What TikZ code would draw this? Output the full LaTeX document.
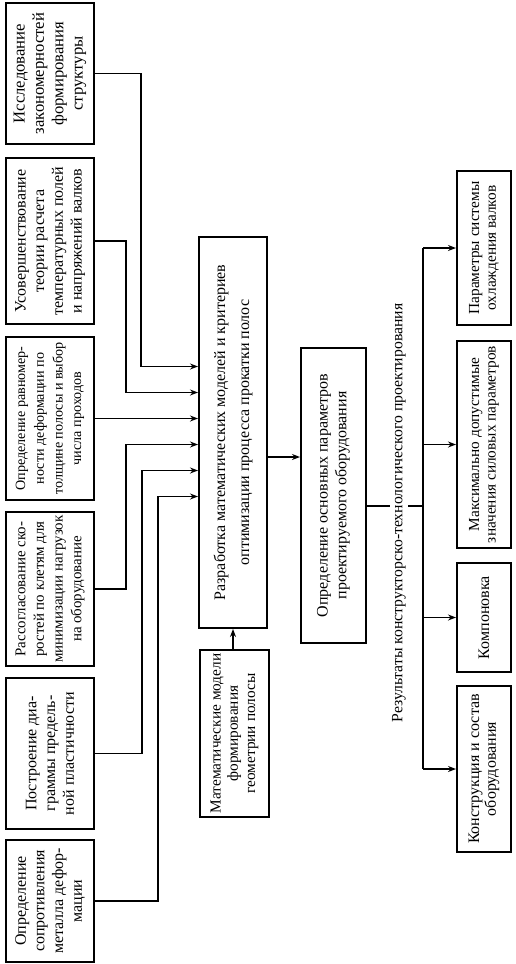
\documentclass[tikz,border=0pt]{standalone}
\usepackage{fontspec}
\setmainfont{Liberation Serif}
\usetikzlibrary{arrows.meta, calc}

\begin{document}
\begin{tikzpicture}[
        x=0.75pt, y=-0.75pt,
        block/.style={draw, line width=1.5pt, rotate=90, align=center, inner sep=1pt, font=\fontsize{12}{14}\selectfont},
        wire/.style={-{Stealth[length=6pt, width=4.5pt]}, line width=1.3pt},
        link/.style={line width=1.3pt},
        caption/.style={rotate=90, fill=white, inner sep=1.5pt, font=\fontsize{11.8}{14}\selectfont}
    ]
        \useasboundingbox (0,0) rectangle (515,964);

        % Studies on the left
        \node[block, minimum width=105.75pt, minimum height=66pt, font=\fontsize{12.5}{14.5}\selectfont] (study) at (50,73.5) {Исследование\\закономерностей\\формирования\\структуры};
        \node[block, minimum width=124.5pt, minimum height=66pt] (theory) at (50,241) {Усовершенствование\\теории расчета\\температурных полей\\и напряжений валков};
        \node[block, minimum width=122.25pt, minimum height=66pt, font=\fontsize{10.6}{14}\selectfont] (uniform) at (50,418.5) {Определение равномер-\\ности деформации по\\толщине полосы и выбор\\числа проходов};
        \node[block, minimum width=115.5pt, minimum height=66pt, font=\fontsize{11.2}{14}\selectfont] (speeds) at (50,589) {Рассогласование ско-\\ростей по клетям для\\минимизации нагрузок\\на оборудование};
        \node[block, minimum width=113.25pt, minimum height=66pt] (plastic) at (50,753.5) {Построение диа-\\граммы предель-\\ной пластичности};
        \node[block, minimum width=91.5pt, minimum height=66pt] (resist) at (50,901) {Определение\\сопротивления\\металла дефор-\\мации};

        % Models and parameters
        \node[block, minimum width=293.25pt, minimum height=51pt, font=\fontsize{12}{18}\selectfont] (models) at (233,432.5) {Разработка математических моделей и критериев\\оптимизации процесса прокатки полос};
        \node[block, minimum width=125.25pt, minimum height=51.75pt, font=\fontsize{11.5}{13}\selectfont] (geom) at (234.5,733.5) {Математические модели\\формирования\\геометрии полосы};
        \node[block, minimum width=221.25pt, minimum height=48.75pt, font=\fontsize{12}{14}\selectfont] (param) at (333.5,495.5) {Определение основных параметров\\проектируемого оборудования};

        % Results on the right
        \node[block, minimum width=115.5pt, minimum height=40.5pt, font=\fontsize{11.5}{12.5}\selectfont] (cooling) at (484,248) {Параметры системы\\охлаждения валков};
        \node[block, minimum width=155.25pt, minimum height=40.5pt, font=\fontsize{11.5}{12.5}\selectfont] (forces) at (484,444.5) {Максимально допустимые\\значения силовых параметров};
        \node[block, minimum width=81.75pt, minimum height=40.5pt] (layout) at (484,617.5) {Компоновка};
        \node[block, minimum width=124.5pt, minimum height=40.5pt, font=\fontsize{12}{12.5}\selectfont] (design) at (484,769) {Конструкция и состав\\оборудования};

        % Inputs to the models
        \foreach \k in {1,...,6}
            \coordinate (in\k) at ($(models.north |- uniform.south)+(0,{26*(\k-3)})$);
        \draw[wire] (study.south) -- ++(46,0) |- (in1);
        \draw[wire] (theory.south) -- ++(31,0) |- (in2);
        \draw[wire] (uniform.south) -- (in3);
        \draw[wire] (speeds.south) -- ++(31,0) |- (in4);
        \draw[wire] (plastic.south) -- ++(47,0) |- (in5);
        \draw[wire] (resist.south) -- ++(63,0) |- (in6);
        \draw[wire] (geom.east -| models.west) -- (models.west);
        \draw[wire] ($(models.south)+(0,24.5)$) coordinate (out) -- (param.north |- out);

        % Results bus
        \coordinate (bus) at (423,506);
        \draw[link] ($(param.south)+(0,10.5)$) -- (bus);
        \node[caption] (results) at (399,513) {Результаты конструкторско-технологического проектирования};
        \draw[link] (bus |- cooling.north) -- (bus |- design.north);
        \foreach \r in {cooling, forces, layout, design}
            \draw[wire] (bus |- \r.north) -- (\r.north);
    \end{tikzpicture}
\end{document}
